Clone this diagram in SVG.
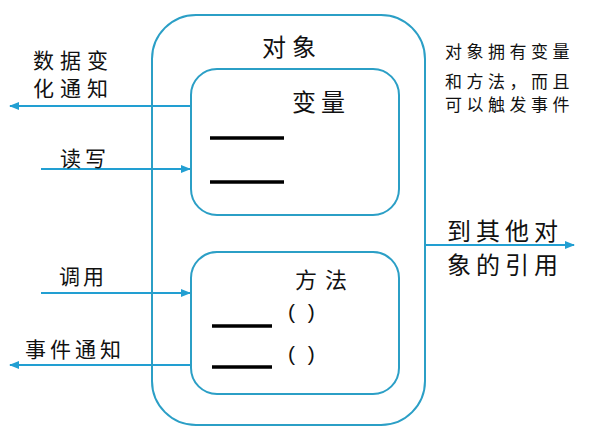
<svg xmlns="http://www.w3.org/2000/svg" width="590" height="436" viewBox="0 0 590 436">
<style>
.box{fill:none;stroke:#2b9fc6;stroke-width:2}
.conn{stroke:#229fd2;stroke-width:2;fill:none}
.t{font-family:"Noto Sans CJK SC","Noto Sans",sans-serif;fill:#111}
.p{font-family:"Liberation Sans",sans-serif;font-size:21px;letter-spacing:3.5px;fill:#111}
.bar{stroke:#000;stroke-width:3.5}
</style>
<defs>
<marker id="ah" markerWidth="10" markerHeight="10" refX="9" refY="5" orient="auto" markerUnits="userSpaceOnUse">
<path d="M0,1 L10,5 L0,9 Z" fill="#229fd2"/>
</marker>
</defs>
<rect width="590" height="436" fill="#ffffff"/>
<g id="connectors">
<line class="conn" x1="191" y1="106" x2="10" y2="106" marker-end="url(#ah)"/>
<line class="conn" x1="41" y1="169" x2="190" y2="169" marker-end="url(#ah)"/>
<line class="conn" x1="41" y1="293" x2="190" y2="293" marker-end="url(#ah)"/>
<line class="conn" x1="191" y1="365" x2="10" y2="365" marker-end="url(#ah)"/>
<line class="conn" x1="425" y1="245" x2="574" y2="245" marker-end="url(#ah)"/>
</g>
<g id="object">
<rect class="box" x="152" y="15" width="273" height="410" rx="44" ry="44"/>
<text class="t" x="262" y="56" font-size="24" letter-spacing="6">对象</text>
</g>
<g id="variables">
<rect class="box" x="191" y="69" width="208" height="146" rx="26" ry="26"/>
<text class="t" x="292" y="111" font-size="24" letter-spacing="5">变量</text>
<line class="bar" x1="210" y1="138" x2="284" y2="138"/>
<line class="bar" x1="210" y1="182" x2="284" y2="182"/>
</g>
<g id="methods">
<rect class="box" x="191" y="252" width="208" height="142" rx="26" ry="26"/>
<text class="t" x="295" y="288" font-size="22" letter-spacing="8">方法</text>
<text class="p" x="288" y="319">( )</text>
<text class="p" x="288" y="361">( )</text>
<line class="bar" x1="212" y1="326" x2="272" y2="326"/>
<line class="bar" x1="212" y1="367" x2="272" y2="367"/>
</g>
<g id="labels">
<text class="t" x="33" y="68" font-size="21" letter-spacing="6">数据变</text>
<text class="t" x="33" y="96" font-size="21" letter-spacing="6">化通知</text>
<text class="t" x="60" y="166" font-size="21" letter-spacing="4">读写</text>
<text class="t" x="59" y="284" font-size="21" letter-spacing="3">调用</text>
<text class="t" x="25" y="357" font-size="21" letter-spacing="4">事件通知</text>
<text class="t" x="445" y="58" font-size="17" letter-spacing="4.5">对象拥有变量</text>
<text class="t" x="445" y="88" font-size="17" letter-spacing="4.5">和方法，而且</text>
<text class="t" x="445" y="111" font-size="17" letter-spacing="4.5">可以触发事件</text>
<text class="t" x="447" y="240" font-size="24" letter-spacing="5">到其他对</text>
<text class="t" x="447" y="274" font-size="24" letter-spacing="5">象的引用</text>
</g>
</svg>
